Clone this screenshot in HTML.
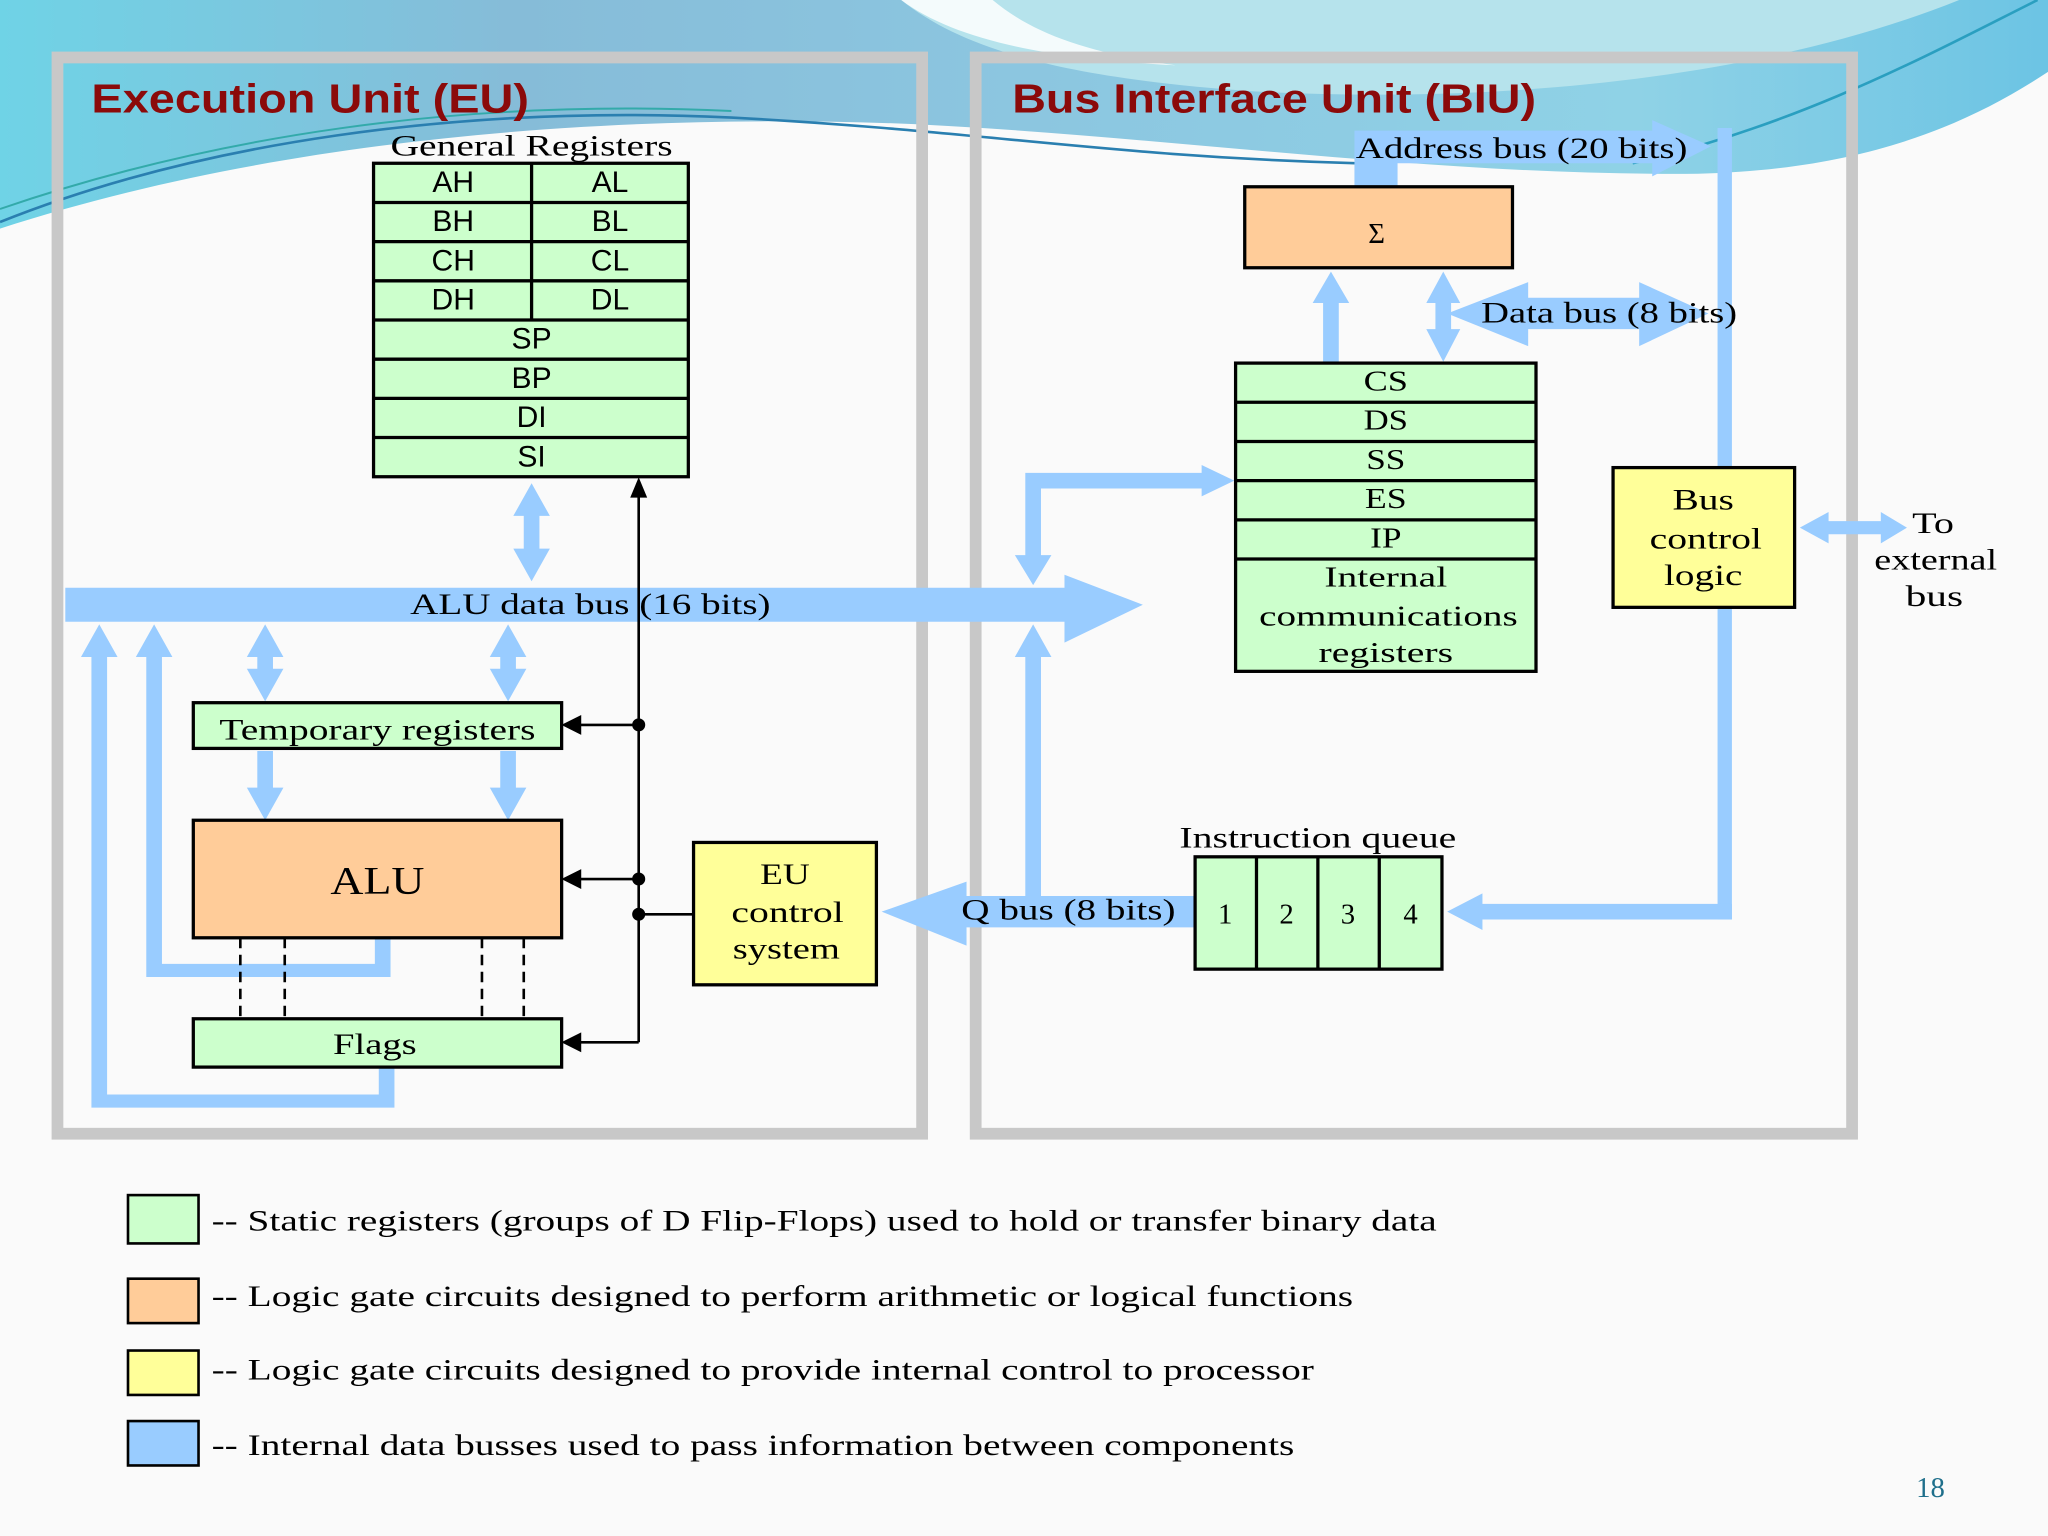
<!DOCTYPE html>
<html><head><meta charset="utf-8"><style>
html,body{margin:0;padding:0;width:2048px;height:1536px;overflow:hidden;background:#fafafa}
svg{display:block}
.s{font-family:"Liberation Serif",serif;fill:#000}
.a{font-family:"Liberation Sans",sans-serif;fill:#000}
</style></head><body>
<svg width="2048" height="1536" viewBox="0 0 1568 1176" xmlns="http://www.w3.org/2000/svg">
<defs>
<linearGradient id="g1" x1="0" y1="0" x2="1" y2="0">
<stop offset="0" stop-color="#6fd3e6"/><stop offset="0.25" stop-color="#86bcd8"/><stop offset="0.5" stop-color="#8cc6e0"/><stop offset="0.8" stop-color="#8fd2e6"/><stop offset="1" stop-color="#6cc4e4"/></linearGradient>
</defs>
<rect width="1568" height="1176" fill="#fafafa"/>
<path d="M0,0 L1568,0 L1568,55 C1500,100 1420,130 1300,133 C1100,135 900,105 700,95 C450,85 200,110 0,175 Z" fill="url(#g1)"/>
<path d="M690,0 C740,40 820,60 960,70 C1150,80 1350,60 1500,0 Z" fill="#b6e3ec"/>
<path d="M690,0 L760,0 C790,25 830,40 900,50 C800,45 730,30 690,0 Z" fill="#f4fbfc"/>
<path d="M0,170 C150,110 350,80 560,90 C750,100 850,120 1040,125" fill="none" stroke="#2a7fb0" stroke-width="2"/>
<path d="M0,160 C160,105 350,75 560,85" fill="none" stroke="#3aa" stroke-width="1.5"/>
<path d="M1250,125 C1380,95 1480,40 1560,0" fill="none" stroke="#2a9fc0" stroke-width="2"/>
<rect x="44" y="44" width="662" height="824" fill="none" stroke="#c8c8c8" stroke-width="9"/>
<rect x="747" y="44" width="671" height="824" fill="none" stroke="#c8c8c8" stroke-width="9"/>
<text x="70" y="86" font-family="Liberation Sans,sans-serif" font-weight="bold" font-size="31" fill="#8b0a0a" textLength="335" lengthAdjust="spacingAndGlyphs">Execution Unit (EU)</text>
<text x="775" y="86" font-family="Liberation Sans,sans-serif" font-weight="bold" font-size="31" fill="#8b0a0a" textLength="401" lengthAdjust="spacingAndGlyphs">Bus Interface Unit (BIU)</text>
<g fill="#99ccff" stroke="none">
<polygon points="50,450 815,450 815,440 875,463 815,492 815,476 50,476"/>
<polygon points="407,370 421,395 413,395 413,420 421,420 407,445 393,420 401,420 401,395 393,395"/>
<polygon points="203,478 217,503 209,503 209,512 217,512 203,537 189,512 197,512 197,503 189,503"/>
<polygon points="389,478 403,503 395,503 395,512 403,512 389,537 375,512 383,512 383,503 375,503"/>
<polygon points="197,575 209,575 209,603 217,603 203,628 189,603 197,603"/>
<polygon points="383,575 395,575 395,603 403,603 389,628 375,603 383,603"/>
<polygon points="287,718 299,718 299,748 112,748 112,503 104,503 118,478 132,503 124,503 124,738 287,738"/>
<polygon points="290,817 302,817 302,848 70,848 70,503 62,503 76,478 90,503 82,503 82,838 290,838"/>
<polygon points="915,686 740,686 740,675 675,698 740,724 740,710 915,710"/>
<rect x="785" y="503" width="12" height="195"/>
<polygon points="791,478 805,503 777,503"/>
<polygon points="785,445 785,362 920,362 920,356 945,368 920,380 920,374 797,374 797,425 805,425 791,448 777,425 785,425"/>
<polygon points="1037,143 1037,100 1265,100 1265,92 1310,112 1265,135 1265,125 1070,125 1070,143"/>
<rect x="1315" y="98" width="11" height="606"/>
<polygon points="1326,692 1326,704 1135,704 1135,712 1108,698 1135,684 1135,692"/>
<polygon points="1013,278 1025,278 1025,232 1033,232 1019,208 1005,232 1013,232"/>
<polygon points="1105,208 1118,232 1111,232 1111,252 1118,252 1105,277 1092,252 1099,252 1099,232 1092,232"/>
<polygon points="1108,240 1170,216 1170,228 1255,228 1255,216 1308,240 1255,265 1255,252 1170,252 1170,265"/>
<polygon points="1378,404 1400,392 1400,399 1440,399 1440,392 1460,404 1440,416 1440,409 1400,409 1400,416"/>
</g>
<text x="407" y="119" text-anchor="middle" class="s" font-size="23" textLength="216" lengthAdjust="spacingAndGlyphs">General Registers</text>
<g stroke="#000" stroke-width="2.5" fill="#ccffcc">
<rect x="286" y="125" width="241" height="240"/>
<line x1="286" y1="155" x2="527" y2="155"/><line x1="286" y1="185" x2="527" y2="185"/>
<line x1="286" y1="215" x2="527" y2="215"/><line x1="286" y1="245" x2="527" y2="245"/>
<line x1="286" y1="275" x2="527" y2="275"/><line x1="286" y1="305" x2="527" y2="305"/>
<line x1="286" y1="335" x2="527" y2="335"/><line x1="407" y1="125" x2="407" y2="245"/>
</g>
<g font-size="23" text-anchor="middle">
<text x="347" y="147" class="a">AH</text><text x="467" y="147" class="a">AL</text>
<text x="347" y="177" class="a">BH</text><text x="467" y="177" class="a">BL</text>
<text x="347" y="207" class="a">CH</text><text x="467" y="207" class="a">CL</text>
<text x="347" y="237" class="a">DH</text><text x="467" y="237" class="a">DL</text>
<text x="407" y="267" class="a">SP</text><text x="407" y="297" class="a">BP</text>
<text x="407" y="327" class="a">DI</text><text x="407" y="357" class="a">SI</text>
</g>
<text x="452" y="470" text-anchor="middle" class="s" font-size="23" textLength="276" lengthAdjust="spacingAndGlyphs">ALU  data bus (16 bits)</text>
<g stroke="#000" stroke-width="2" fill="#000">
<line x1="489" y1="378" x2="489" y2="798"/>
<polygon points="489,368 484,380 494,380"/>
<line x1="440" y1="555" x2="489" y2="555"/><polygon points="432,555 444,549 444,561"/>
<line x1="440" y1="673" x2="489" y2="673"/><polygon points="432,673 444,667 444,679"/>
<line x1="440" y1="798" x2="489" y2="798"/><polygon points="432,798 444,792 444,804"/>
<line x1="489" y1="700" x2="531" y2="700"/>
<circle cx="489" cy="555" r="4"/><circle cx="489" cy="673" r="4"/><circle cx="489" cy="700" r="4"/>
</g>
<rect x="148" y="538" width="282" height="35" fill="#ccffcc" stroke="#000" stroke-width="2.5"/>
<text x="289" y="566" text-anchor="middle" class="s" font-size="23" textLength="242" lengthAdjust="spacingAndGlyphs">Temporary registers</text>
<rect x="148" y="628" width="282" height="90" fill="#ffcc99" stroke="#000" stroke-width="2.5"/>
<text x="289" y="684" text-anchor="middle" class="s" font-size="30" textLength="72" lengthAdjust="spacingAndGlyphs">ALU</text>
<g stroke="#000" stroke-width="2" stroke-dasharray="8,5">
<line x1="184" y1="718" x2="184" y2="780"/><line x1="218" y1="718" x2="218" y2="780"/>
<line x1="369" y1="718" x2="369" y2="780"/><line x1="401" y1="718" x2="401" y2="780"/>
</g>
<rect x="148" y="780" width="282" height="37" fill="#ccffcc" stroke="#000" stroke-width="2.5"/>
<text x="287" y="807" text-anchor="middle" class="s" font-size="23" textLength="64" lengthAdjust="spacingAndGlyphs">Flags</text>
<rect x="531" y="645" width="140" height="109" fill="#ffff99" stroke="#000" stroke-width="2.5"/>
<g font-size="23" text-anchor="middle">
<text x="601" y="677" class="s" textLength="38" lengthAdjust="spacingAndGlyphs">EU</text><text x="603" y="706" class="s" textLength="86" lengthAdjust="spacingAndGlyphs">control</text><text x="602" y="734" class="s" textLength="82" lengthAdjust="spacingAndGlyphs">system</text>
</g>
<text x="818" y="704" text-anchor="middle" class="s" font-size="23" textLength="164" lengthAdjust="spacingAndGlyphs">Q bus (8 bits)</text>
<text x="1165" y="121" text-anchor="middle" class="s" font-size="23" textLength="254" lengthAdjust="spacingAndGlyphs">Address bus (20 bits)</text>
<rect x="953" y="143" width="205" height="62" fill="#ffcc99" stroke="#000" stroke-width="2.5"/>
<text x="1054" y="186" text-anchor="middle" class="s" font-size="22">Σ</text>
<text x="1232" y="247" text-anchor="middle" class="s" font-size="23" textLength="196" lengthAdjust="spacingAndGlyphs">Data bus (8 bits)</text>
<g stroke="#000" stroke-width="2.5" fill="#ccffcc">
<rect x="946" y="278" width="230" height="236"/>
<line x1="946" y1="308" x2="1176" y2="308"/><line x1="946" y1="338" x2="1176" y2="338"/>
<line x1="946" y1="368" x2="1176" y2="368"/><line x1="946" y1="398" x2="1176" y2="398"/>
<line x1="946" y1="428" x2="1176" y2="428"/>
</g>
<g font-size="22" text-anchor="middle">
<text x="1061" y="299" class="s" textLength="34" lengthAdjust="spacingAndGlyphs">CS</text><text x="1061" y="329" class="s" textLength="34" lengthAdjust="spacingAndGlyphs">DS</text>
<text x="1061" y="359" class="s" textLength="30" lengthAdjust="spacingAndGlyphs">SS</text><text x="1061" y="389" class="s" textLength="32" lengthAdjust="spacingAndGlyphs">ES</text>
<text x="1061" y="419" class="s" textLength="24" lengthAdjust="spacingAndGlyphs">IP</text><text x="1061" y="449" class="s" textLength="94" lengthAdjust="spacingAndGlyphs">Internal</text>
<text x="1063" y="479" class="s" textLength="198" lengthAdjust="spacingAndGlyphs">communications</text><text x="1061" y="507" class="s" textLength="103" lengthAdjust="spacingAndGlyphs">registers</text>
</g>
<rect x="1235" y="358" width="139" height="107" fill="#ffff99" stroke="#000" stroke-width="2.5"/>
<g font-size="23" text-anchor="middle">
<text x="1304" y="390" class="s" textLength="47" lengthAdjust="spacingAndGlyphs">Bus</text><text x="1306" y="420" class="s" textLength="86" lengthAdjust="spacingAndGlyphs">control</text><text x="1304" y="448" class="s" textLength="60" lengthAdjust="spacingAndGlyphs">logic</text>
<text x="1480" y="408" class="s" textLength="32" lengthAdjust="spacingAndGlyphs">To</text><text x="1482" y="436" class="s" textLength="94" lengthAdjust="spacingAndGlyphs">external</text><text x="1481" y="464" class="s" textLength="44" lengthAdjust="spacingAndGlyphs">bus</text>
</g>
<text x="1009" y="649" text-anchor="middle" class="s" font-size="23" textLength="212" lengthAdjust="spacingAndGlyphs">Instruction queue</text>
<g stroke="#000" stroke-width="2.5" fill="#ccffcc">
<rect x="915" y="656" width="189" height="86"/>
<line x1="962" y1="656" x2="962" y2="742"/><line x1="1009" y1="656" x2="1009" y2="742"/><line x1="1056" y1="656" x2="1056" y2="742"/>
</g>
<g font-size="22" text-anchor="middle">
<text x="938" y="707" class="s">1</text><text x="985" y="707" class="s">2</text><text x="1032" y="707" class="s">3</text><text x="1080" y="707" class="s">4</text>
</g>
<g stroke="#000" stroke-width="2">
<rect x="98" y="915" width="54" height="37" fill="#ccffcc"/>
<rect x="98" y="979" width="54" height="34" fill="#ffcc99"/>
<rect x="98" y="1034" width="54" height="34" fill="#ffff99"/>
<rect x="98" y="1088" width="54" height="34" fill="#99ccff"/>
</g>
<g font-size="23">
<text x="162" y="942" class="s" textLength="938" lengthAdjust="spacingAndGlyphs">-- Static registers (groups of D Flip-Flops) used to hold or transfer binary data</text>
<text x="162" y="1000" class="s" textLength="874" lengthAdjust="spacingAndGlyphs">-- Logic gate circuits designed to perform arithmetic or logical functions</text>
<text x="162" y="1056" class="s" textLength="844" lengthAdjust="spacingAndGlyphs">-- Logic gate circuits designed to provide internal control to processor</text>
<text x="162" y="1114" class="s" textLength="829" lengthAdjust="spacingAndGlyphs">-- Internal data busses used to pass information between components</text>
</g>
<text x="1478" y="1146" text-anchor="middle" font-family="Liberation Serif,serif" font-size="22" fill="#1f6f8b">18</text>
</svg>
</body></html>
